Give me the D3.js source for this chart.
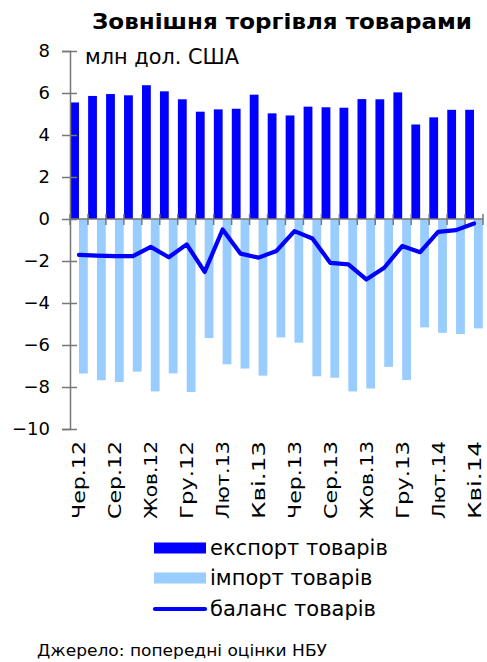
<!DOCTYPE html>
<html>
<head>
<meta charset="utf-8">
<script src="https://cdn.jsdelivr.net/npm/d3@7"></script>
<style>
html,body{margin:0;padding:0;background:#fff;}
svg{display:block;font-family:"DejaVu Sans",Verdana,sans-serif;}
</style>
</head>
<body>
<svg id="chart" width="487" height="662"></svg>
<script>
const categories = ["Чер.12","Лип.12","Сер.12","Вер.12","Жов.12","Лис.12","Гру.12","Січ.13","Лют.13","Бер.13","Кві.13","Тра.13","Чер.13","Лип.13","Сер.13","Вер.13","Жов.13","Лис.13","Гру.13","Січ.14","Лют.14","Бер.14","Кві.14"];
const exportValues = [5.55,5.86,5.95,5.89,6.37,6.08,5.70,5.11,5.22,5.25,5.92,5.03,4.93,5.35,5.32,5.30,5.71,5.70,6.03,4.50,4.84,5.20,5.20];
const importValues = [-7.36,-7.68,-7.76,-7.27,-8.21,-7.35,-8.24,-5.67,-6.92,-7.12,-7.46,-5.64,-5.89,-7.49,-7.56,-8.21,-8.07,-7.04,-7.67,-5.16,-5.42,-5.48,-5.21];
const balanceValues = [-1.71,-1.74,-1.77,-1.77,-1.33,-1.82,-1.21,-2.52,-0.50,-1.65,-1.84,-1.52,-0.58,-0.93,-2.09,-2.16,-2.88,-2.32,-1.29,-1.58,-0.61,-0.53,-0.21];
const yTicks = [8,6,4,2,0,-2,-4,-6,-8,-10];
const seriesNames = ["експорт товарів","імпорт товарів","баланс товарів"];
const title = "Зовнішня торгівля товарами";
const unitLabel = "млн дол. США";
const sourceText = "Джерело: попередні оцінки НБУ";

const exportColor = "#0000ff", importColor = "#99ccff", lineColor = "#0000ff", axisColor = "#777";

const svg = d3.select("#chart");
const plotLeft = 70, plotRight = 483, plotTop = 51, plotBottom = 429;

const x = d3.scaleBand().domain(categories).range([plotLeft, plotRight]).paddingInner(0).paddingOuter(0);
const xs = d3.scaleBand().domain(["exp","imp"]).range([0, x.bandwidth()]).paddingInner(0).paddingOuter(0.02);
const y = d3.scaleLinear().domain([-10, 8]).range([plotBottom, plotTop]);

// title
svg.append("text").attr("x", 282).attr("y", 29).attr("text-anchor","middle")
  .attr("font-weight","bold").attr("font-size", 21).attr("fill","#000")
  .attr("textLength", 380).attr("lengthAdjust","spacingAndGlyphs").text(title);
svg.append("text").attr("x", 85).attr("y", 64).attr("font-size", 21).attr("fill","#000")
  .attr("textLength", 154).attr("lengthAdjust","spacingAndGlyphs").text(unitLabel);

// bars
svg.append("g").selectAll("rect").data(categories).join("rect")
  .attr("x", d => x(d) + xs("exp")).attr("width", xs.bandwidth())
  .attr("y", (d,i) => y(exportValues[i])).attr("height", (d,i) => y(0) - y(exportValues[i]))
  .attr("fill", exportColor);
svg.append("g").selectAll("rect").data(categories).join("rect")
  .attr("x", d => x(d) + xs("imp")).attr("width", xs.bandwidth())
  .attr("y", y(0)).attr("height", (d,i) => y(importValues[i]) - y(0))
  .attr("fill", importColor);

// y axis
const yAxis = d3.axisLeft(y).tickValues(yTicks).tickSize(8).tickPadding(14).tickFormat(d3.format("d"));
const gy = svg.append("g").attr("transform", `translate(${plotLeft},0)`).call(yAxis);
gy.select(".domain").attr("stroke", axisColor).attr("stroke-width", 1.5);
gy.selectAll(".tick line").attr("stroke", axisColor).attr("stroke-width",1.5).attr("x2", 7).attr("x1",-8);
gy.selectAll(".tick text").attr("font-size", 18).attr("font-family","DejaVu Sans").attr("fill","#000").attr("x",-20);

// x axis at zero
const tickPos = categories.map(c => x(c)).concat([plotRight]);
const gx = svg.append("g");
gx.append("line").attr("x1", plotLeft).attr("x2", plotRight).attr("y1", y(0)).attr("y2", y(0))
  .attr("stroke", axisColor).attr("stroke-width", 1.5);
gx.selectAll("line.t").data(tickPos).join("line").attr("class","t")
  .attr("x1", d => d).attr("x2", d => d).attr("y1", y(0) - 5).attr("y2", y(0) + 6)
  .attr("stroke", axisColor).attr("stroke-width", 1.5);

// balance line
const line = d3.line().x((d,i) => x(categories[i]) + x.bandwidth()/2).y(d => y(d));
svg.append("path").datum(balanceValues).attr("d", line)
  .attr("fill","none").attr("stroke", lineColor).attr("stroke-width", 4.2).attr("stroke-linejoin","round").attr("stroke-linecap","round");

// x labels (every second)
svg.append("g").selectAll("text").data(categories.filter((d,i) => i % 2 === 0)).join("text")
  .attr("transform", d => `translate(${x(d) + x.bandwidth()/2 + 6.5},441) rotate(-90)`)
  .attr("text-anchor","end").attr("font-size", 18).attr("fill","#000")
  .attr("textLength", 78).attr("lengthAdjust","spacingAndGlyphs")
  .text(d => d);

// legend
const lg = svg.append("g");
const ly = [548, 578, 609];
lg.append("rect").attr("x",154).attr("y",ly[0]-5.5).attr("width",52).attr("height",11).attr("fill",exportColor);
lg.append("rect").attr("x",154).attr("y",ly[1]-5.5).attr("width",52).attr("height",11).attr("fill",importColor);
lg.append("line").attr("x1",155).attr("x2",205).attr("y1",ly[2]).attr("y2",ly[2]).attr("stroke",lineColor).attr("stroke-width",4.2).attr("stroke-linecap","round");
lg.selectAll("text").data(seriesNames).join("text")
  .attr("x", 210).attr("y", (d,i) => ly[i] + 7).attr("font-size", 21).attr("fill","#000").text(d => d);

svg.append("text").attr("x", 37).attr("y", 656).attr("font-size", 15).attr("fill","#000")
  .attr("textLength", 290).attr("lengthAdjust","spacingAndGlyphs").text(sourceText);
</script>
</body>
</html>
